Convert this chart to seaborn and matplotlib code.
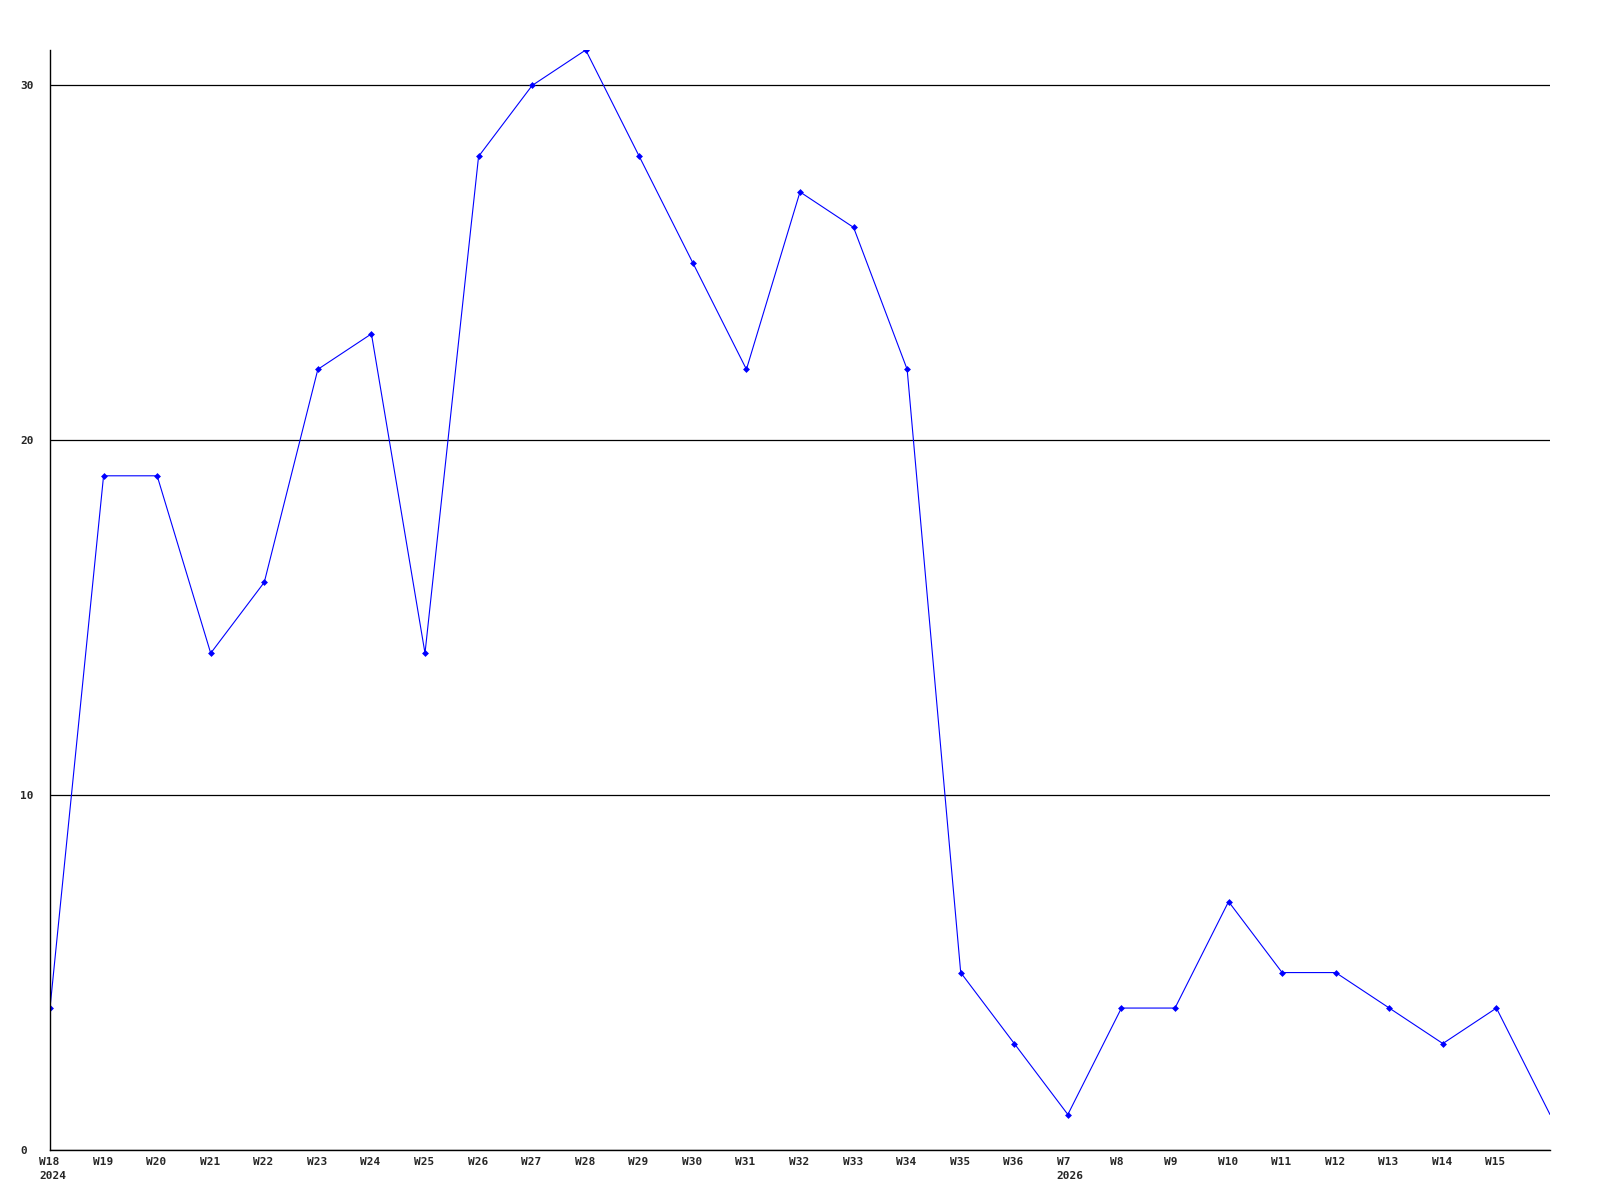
import matplotlib
matplotlib.use("Agg")
import matplotlib.pyplot as plt
import matplotlib.transforms as mtransforms
import seaborn as sns
import pandas as pd

# weekly values
weeks = ["W18\n2024", "W19", "W20", "W21", "W22", "W23", "W24", "W25", "W26",
         "W27", "W28", "W29", "W30", "W31", "W32", "W33", "W34", "W35", "W36",
         "W7\n2026", "W8", "W9", "W10", "W11", "W12", "W13", "W14", "W15", ""]
values = [4, 19, 19, 14, 16, 22, 23, 14, 28, 30, 31, 28, 25, 22, 27, 26, 22,
          5, 3, 1, 4, 4, 7, 5, 5, 4, 3, 4, 1]
y_ticks = [0, 10, 20, 30]

df = pd.DataFrame({"pos": range(len(values)), "value": values})

sns.set_style("white")
plt.rcParams["font.family"] = ["DejaVu Sans Mono"]

fig = plt.figure(figsize=(16, 12), dpi=100)
ax = fig.add_axes([0.03125, 0.04167, 0.9375, 0.91667])

sns.lineplot(data=df, x="pos", y="value", ax=ax, color="#0000ff",
             linewidth=0.8, marker="D", markersize=3.5, markeredgewidth=0,
             markevery=list(range(len(values) - 1)))

ax.set_xlim(0, len(values) - 1)
ax.set_ylim(0, max(values))
ax.set_xticks(range(len(weeks)))
ax.set_xticklabels(weeks, fontsize=8, fontweight="bold")
ax.set_yticks(y_ticks)
ax.set_yticklabels([str(t) for t in y_ticks], fontsize=8, fontweight="bold")
ax.set_xlabel("")
ax.set_ylabel("")

ax.yaxis.grid(True, color="black", linewidth=0.9)
ax.xaxis.grid(False)
for side in ["top", "right"]:
    ax.spines[side].set_visible(False)
for side in ["left", "bottom"]:
    ax.spines[side].set_color("black")
    ax.spines[side].set_linewidth(1.0)

ax.tick_params(axis="both", length=0)
ax.tick_params(axis="x", pad=5)
ax.tick_params(axis="y", pad=21.6)

shift = mtransforms.ScaledTranslation(-11 / 100, 0, fig.dpi_scale_trans)
for lbl in ax.get_xticklabels():
    lbl.set_horizontalalignment("left")
    lbl.set_multialignment("left")
    lbl.set_linespacing(1.5)
    lbl.set_transform(lbl.get_transform() + shift)
for lbl in ax.get_yticklabels():
    lbl.set_horizontalalignment("left")

fig.savefig("out.png", dpi=100, facecolor="white")
